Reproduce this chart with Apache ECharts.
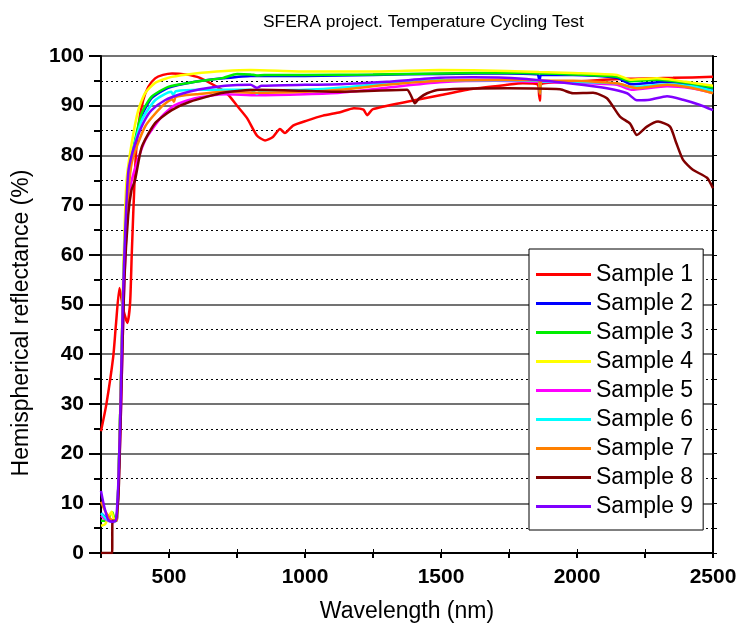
<!DOCTYPE html>
<html>
<head>
<meta charset="utf-8">
<script src="https://cdn.jsdelivr.net/npm/echarts@6/dist/echarts.min.js"></script>
<style>
  html, body { margin: 0; padding: 0; background: #fff; }
  #chart { width: 744px; height: 634px; }
</style>
</head>
<body>
<div id="chart"></div>
<script>
  // sample names (legend)
  var sampleNames = ['Sample 1', 'Sample 2', 'Sample 3', 'Sample 4', 'Sample 5',
    'Sample 6', 'Sample 7', 'Sample 8', 'Sample 9'];
  var sampleColors = ['#ff0000', '#0000ff', '#00ee00', '#ffff00', '#ff00ff',
    '#00ffff', '#ff8000', '#800000', '#8000ff'];

  // [wavelength nm, reflectance %]
  var sample1 = [[250,24.5],[270,30],[295,39.5],[305,46],[318,53.3],[332,49],[347,46.3],[357,50.3],[363,60],[375,77],[387,85.8],[405,91.1],[424,93.8],[449,95.5],[478,96.2],[511,96.5],[560,96.3],[614,95.6],[676,93.8],[713,92.5],[750,90],[787,87.5],[823,84],[853,83],[882,83.7],[908,85.3],[926,84.5],[956,86],[1007,87],[1066,88],[1129,88.7],[1180,89.5],[1215,89.2],[1228,88.1],[1250,89.3],[1375,90.8],[1496,92.1],[1618,93.4],[1743,94.2],[1801,94.5],[1855,94.3],[1861,92],[1864,91],[1868,94.3],[1985,94.8],[2169,95.4],[2353,95.6],[2500,95.8]];
  var sample2 = [[250,8],[275,6.8],[295,6.4],[308,6.8],[314,14],[322,31],[330,50],[338,64],[349,75],[375,82.5],[400,88],[436,91.5],[497,93.6],[596,94.8],[699,95.5],[800,96],[1000,96],[1250,96.2],[1496,96.4],[1743,96.5],[1855,96.3],[1862,94.8],[1868,96.2],[1985,96.2],[2147,95.6],[2200,94.3],[2331,94.8],[2420,94.2],[2500,93.2]];
  var sample3 = [[250,6.5],[270,6.5],[285,7.8],[292,8.2],[300,6.8],[308,7],[314,14],[322,31],[330,50],[338,64],[349,75],[375,83],[400,88.5],[436,91.8],[497,93.8],[596,94.8],[699,95.6],[750,96.4],[800,96.3],[823,96.1],[850,96.2],[1000,96.2],[1250,96.3],[1496,96.5],[1743,96.6],[1860,96.5],[1985,96.3],[2147,95.8],[2195,94.9],[2294,95.2],[2400,94.6],[2500,93.6]];
  var sample4 = [[250,5.5],[265,5.8],[280,7.5],[289,8.3],[298,6.8],[308,7],[314,14],[322,32],[330,52],[337,66],[344,75],[363,82.5],[387,89.1],[412,92.5],[449,94.6],[510,95.8],[596,96.5],[706,97],[800,97.2],[1000,96.9],[1250,96.9],[1496,97.2],[1743,97],[1860,96.8],[1985,96.6],[2147,96.2],[2195,95.2],[2294,95.5],[2400,94.8],[2500,94]];
  var sample5 = [[250,7.5],[275,6.5],[295,6.2],[308,6.6],[315,14],[324,30],[333,50],[345,66],[363,75],[412,83],[473,87.8],[522,90.1],[596,91.5],[706,92.3],[823,92.1],[1000,92.3],[1129,92.6],[1300,93.6],[1496,94.7],[1700,95],[1860,94.8],[1985,94.6],[2147,94.2],[2200,93.2],[2331,93.9],[2420,93.5],[2500,92.6]];
  var sample6 = [[250,8],[275,6.6],[295,6.3],[308,6.6],[314,14],[322,31],[331,50],[340,65],[363,79.7],[400,87.1],[449,91.1],[508,92.8],[515,92.2],[525,92.9],[614,93.2],[800,93.2],[823,92.4],[840,93],[1000,93.2],[1129,93.6],[1300,94.5],[1496,95.1],[1743,95.1],[1858,95],[1864,92.5],[1870,94.9],[1985,94.8],[2147,94.5],[2200,93.7],[2331,94.3],[2420,93.9],[2500,93]];
  var sample7 = [[250,10.3],[265,8.5],[280,7.2],[295,6.4],[308,6.6],[314,14],[322,31],[331,50],[342,66],[363,78.5],[412,85.8],[473,89.8],[512,91.3],[518,90.8],[525,91.8],[600,92.3],[706,92.8],[823,92.6],[1000,92.8],[1129,93.2],[1300,94.2],[1496,95],[1743,95.2],[1858,95.1],[1864,92.5],[1870,95],[1985,95],[2147,94.5],[2220,93.5],[2331,94.2],[2420,93.6],[2500,92.5]];
  var sample8 = [[250,0],[291,0],[292,6.5],[305,6.5],[316,14],[326,35],[336,55],[350,68],[362,73],[375,75],[400,81.7],[449,86.5],[510,89.1],[577,90.8],[699,92.6],[823,93.2],[1000,93],[1129,92.8],[1375,93.2],[1390,92],[1404,90.5],[1420,91.5],[1449,92.5],[1496,93.2],[1743,93.5],[1938,93.3],[1985,92.5],[2059,92.6],[2110,91.5],[2158,87.8],[2195,86.4],[2220,84.1],[2257,85.8],[2298,86.8],[2342,85.8],[2365,82.5],[2390,79.1],[2426,77.1],[2478,75.5],[2500,73.4]];
  var sample9 = [[250,12.5],[262,9.3],[277,6.6],[294,6.3],[305,6.6],[314,14.5],[322,30],[330,50],[340,66],[350,76.5],[365,80.5],[386,84],[410,87],[436,89.1],[485,91.1],[547,92.4],[614,93.3],[706,94],[800,94.2],[823,93.6],[840,94],[1000,94.2],[1129,94.3],[1300,94.8],[1496,95.6],[1618,95.7],[1800,95.4],[1985,94.4],[2110,93.5],[2184,92.5],[2220,91.1],[2268,91.2],[2331,91.9],[2390,91.2],[2450,90.2],[2500,89.1]];

  var sampleData = [sample1, sample2, sample3, sample4, sample5, sample6, sample7, sample8, sample9];

  var font = "'Liberation Sans', Arial, sans-serif";

  var chart = echarts.init(document.getElementById('chart'));

  var series = sampleNames.map(function (name, i) {
    return {
      name: name,
      type: 'line',
      data: sampleData[i],
      symbol: 'none',
      smooth: 0.2,
      color: sampleColors[i],
      lineStyle: { width: 2.5, color: sampleColors[i] },
      animation: false
    };
  });

  var option = {
    animation: false,
    backgroundColor: '#fff',
    title: {
      text: 'SFERA project. Temperature Cycling Test',
      left: 258,
      top: 9,
      textStyle: { fontFamily: font, fontSize: 17.4, fontWeight: 'normal', color: '#000' }
    },
    graphic: [
      {
        type: 'text',
        x: 22, y: 323,
        rotation: Math.PI / 2,
        style: {
          text: 'Hemispherical reflectance (%)',
          font: "23px 'Liberation Sans', Arial, sans-serif",
          fill: '#000',
          align: 'center',
          verticalAlign: 'middle'
        }
      }
    ],
    grid: { left: 101, right: 31, top: 56, bottom: 81 },
    legend: {
      orient: 'vertical',
      left: 529,
      top: 249,
      padding: [14, 10, 12, 7],
      itemWidth: 55,
      itemHeight: 3,
      itemGap: 6,
      icon: 'rect',
      backgroundColor: '#fff',
      borderColor: '#000',
      borderWidth: 1,
      borderRadius: 0,
      data: sampleNames,
      textStyle: { fontFamily: font, fontSize: 23, lineHeight: 23, color: '#000' }
    },
    xAxis: [
      {
        type: 'value', min: 250, max: 2500, interval: 250, position: 'bottom',
        name: 'Wavelength (nm)', nameLocation: 'middle', nameGap: 47,
        nameTextStyle: { fontFamily: font, fontSize: 23, color: '#000' },
        axisLine: { lineStyle: { color: '#000', width: 2 } },
        axisTick: { show: true, inside: false, length: 5, lineStyle: { color: '#000', width: 2 } },
        axisLabel: {
          margin: 14, fontFamily: font, fontSize: 21, fontWeight: 'bold', color: '#000',
          formatter: function (v) { return v % 500 === 0 ? String(v) : ''; }
        },
        splitLine: { show: false }
      },
      {
        type: 'value', min: 250, max: 2500, interval: 250, position: 'top',
        axisLine: { lineStyle: { color: '#000', width: 2 } },
        axisTick: { show: true, inside: false, length: 4, lineStyle: { color: '#000', width: 1 } },
        axisLabel: { show: false },
        splitLine: { show: false }
      }
    ],
    yAxis: [
      {
        type: 'value', min: 0, max: 100, interval: 10, position: 'left',
        axisLine: { show: true, lineStyle: { color: '#000', width: 2 } },
        axisTick: { show: true, length: 12, lineStyle: { color: '#000', width: 2 } },
        minorTick: { show: true, splitNumber: 2, length: 7, lineStyle: { color: '#000', width: 2 } },
        axisLabel: { margin: 17, fontFamily: font, fontSize: 21, fontWeight: 'bold', color: '#000' },
        splitLine: { show: true, lineStyle: { color: '#444', width: 1.5 } },
        minorSplitLine: { show: true, lineStyle: { color: '#000', width: 1, type: [2, 3] } }
      },
      {
        type: 'value', min: 0, max: 100, interval: 10, position: 'right',
        axisLine: { show: true, lineStyle: { color: '#000', width: 2 } },
        axisTick: { show: true, length: 4, lineStyle: { color: '#000', width: 1 } },
        minorTick: { show: true, splitNumber: 2, length: 4, lineStyle: { color: '#000', width: 1 } },
        axisLabel: { show: false },
        splitLine: { show: false }
      }
    ],
    series: series
  };

  chart.setOption(option);
</script>
</body>
</html>
